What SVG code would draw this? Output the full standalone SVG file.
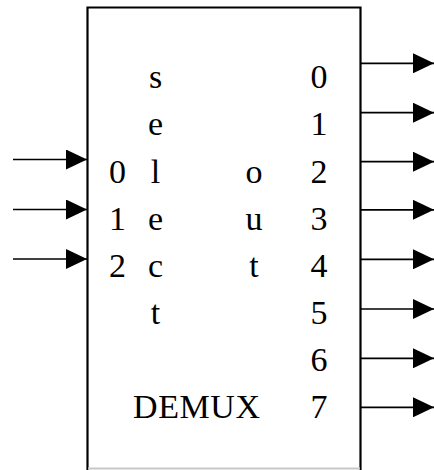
<svg xmlns="http://www.w3.org/2000/svg" width="434" height="470" viewBox="0 0 434 470">
  <style>
    .lbl { font-family: "Liberation Serif", "Times New Roman", serif; font-size: 34px; fill: #000; text-anchor: middle; }
    .wire { stroke: #000; stroke-width: 1.7; fill: none; marker-end: url(#head); }
    .edge { fill: none; stroke: #000; stroke-width: 2.2; }
    .base { stroke: #c8c8c8; stroke-width: 2; }
  </style>
  <defs>
    <marker id="head" markerUnits="userSpaceOnUse" markerWidth="21" markerHeight="20" refX="21" refY="10" orient="auto">
      <path d="M0,0 L21,10 L0,20 Z" fill="#000"/>
    </marker>
  </defs>

  <!-- demultiplexer block -->
  <g id="demux">
    <rect x="87.5" y="7.5" width="273" height="461" fill="#fff"/>
    <path class="edge" d="M87.5,470 V7.5 H360.5 V470"/>
    <line class="base" x1="88" y1="468.5" x2="360" y2="468.5"/>
    <!-- select label, written vertically -->
    <text class="lbl" x="155.5" y="88">s</text>
    <text class="lbl" x="155.5" y="135">e</text>
    <text class="lbl" x="155.5" y="182.5">l</text>
    <text class="lbl" x="155.5" y="229.6">e</text>
    <text class="lbl" x="155.5" y="276.8">c</text>
    <text class="lbl" x="155.5" y="324">t</text>
    <!-- select input indices -->
    <text class="lbl" x="117.5" y="182.5">0</text>
    <text class="lbl" x="117.5" y="229.6">1</text>
    <text class="lbl" x="117.5" y="276.8">2</text>
    <!-- out label -->
    <text class="lbl" x="254" y="182.5">o</text>
    <text class="lbl" x="254" y="229.6">u</text>
    <text class="lbl" x="254" y="276.8">t</text>
    <!-- output indices -->
    <text class="lbl" x="319" y="88">0</text>
    <text class="lbl" x="319" y="135">1</text>
    <text class="lbl" x="319" y="182.5">2</text>
    <text class="lbl" x="319" y="229.6">3</text>
    <text class="lbl" x="319" y="276.8">4</text>
    <text class="lbl" x="319" y="324">5</text>
    <text class="lbl" x="319" y="371">6</text>
    <text class="lbl" x="319" y="418.4">7</text>
    <text class="lbl" x="196.5" y="418.4" textLength="127" lengthAdjust="spacing">DEMUX</text>
  </g>

  <!-- input and output connectors -->
  <g id="connectors">
    <line class="wire" x1="13" y1="159.5" x2="87" y2="159.5"/>
    <line class="wire" x1="13" y1="209.5" x2="87" y2="209.5"/>
    <line class="wire" x1="13" y1="259" x2="87" y2="259"/>

    <line class="wire" x1="361" y1="63.3" x2="434" y2="63.3"/>
    <line class="wire" x1="361" y1="112.7" x2="434" y2="112.7"/>
    <line class="wire" x1="361" y1="161.7" x2="434" y2="161.7"/>
    <line class="wire" x1="361" y1="209.8" x2="434" y2="209.8"/>
    <line class="wire" x1="361" y1="259.3" x2="434" y2="259.3"/>
    <line class="wire" x1="361" y1="309" x2="434" y2="309"/>
    <line class="wire" x1="361" y1="358.3" x2="434" y2="358.3"/>
    <line class="wire" x1="361" y1="407.3" x2="434" y2="407.3"/>
  </g>
</svg>
